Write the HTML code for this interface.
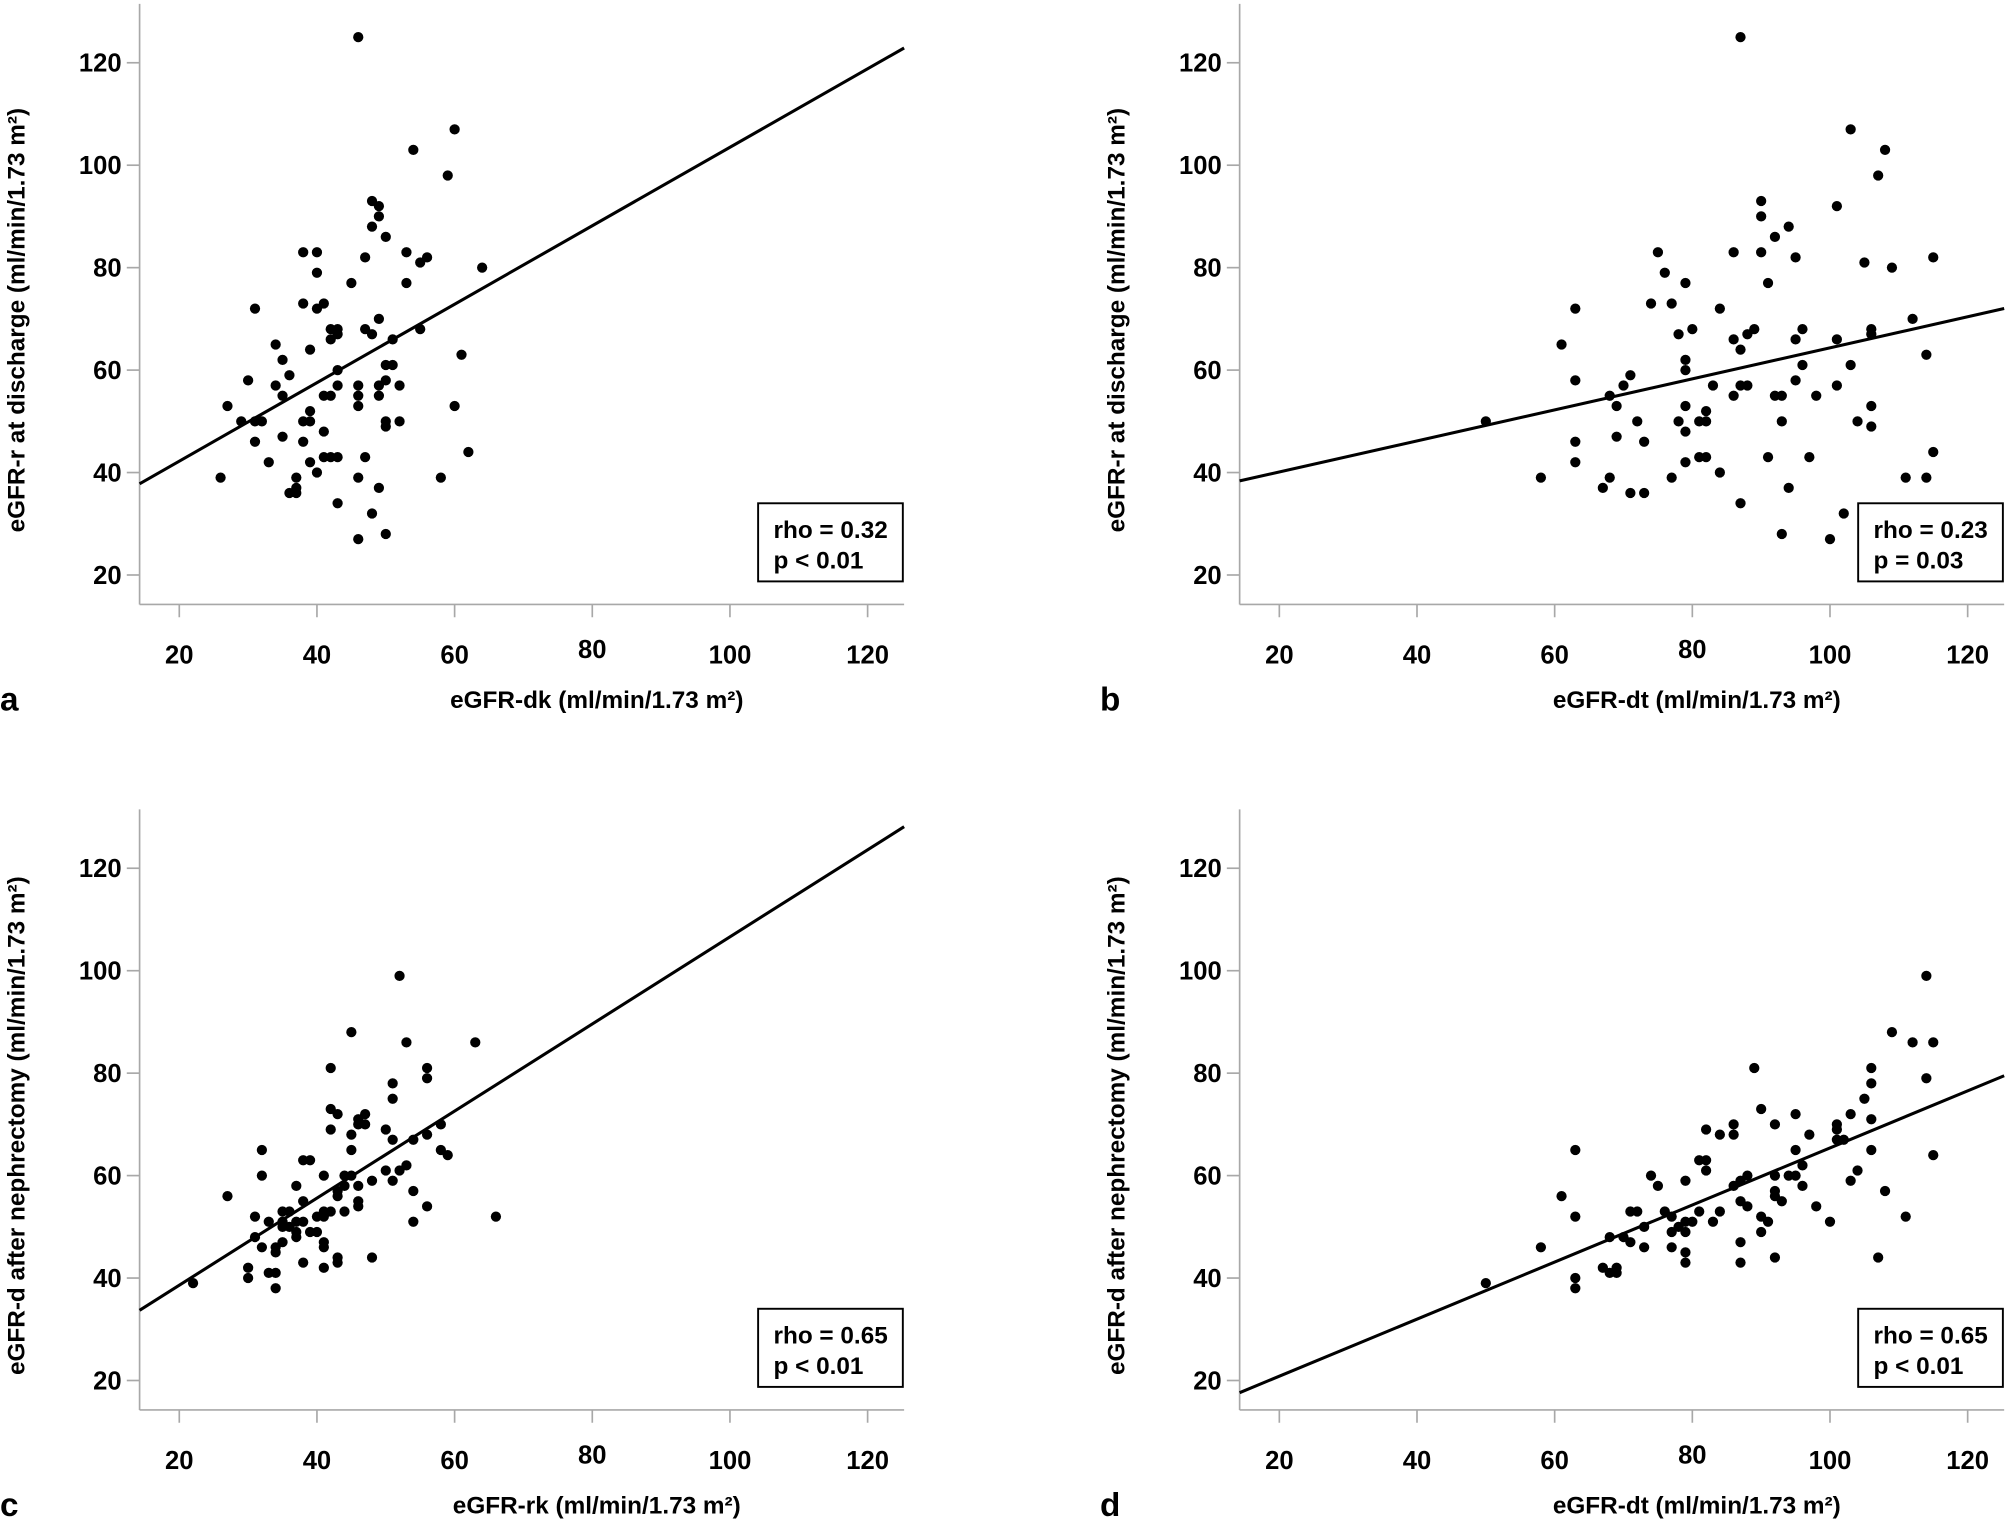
<!DOCTYPE html>
<html><head><meta charset="utf-8"><style>
html,body{margin:0;padding:0;background:#fff;}
svg{display:block;}
text{font-family:"Liberation Sans Narrow","Liberation Sans",sans-serif;font-weight:bold;fill:#000;}
.plabel{font-family:"Liberation Sans",sans-serif;font-size:26px;}
</style></head><body>
<svg id="fig" xmlns="http://www.w3.org/2000/svg" width="2008" height="1522" viewBox="0 0 1568 1188.5" preserveAspectRatio="none"></svg>
<script>
// Panel a: eGFR-dk vs eGFR-r at discharge
const aX=[46,60,54,59,48,49,49,48,50,38,40,47,53,55,56,64,40,45,53,31,38,40,41,49,42,43,47,55,43,48,42,51,34,39,61,35,43,36,30,50,34,43,46,49,52,50,51,35,41,42,46,49,27,46,60,39,29,31,32,38,39,50,52,50,41,35,31,38,62,41,42,43,47,33,39,40,26,37,46,58,37,49,36,37,43,48,50,46];
const aY=[125,107,103,98,93,92,90,88,86,83,83,82,83,81,82,80,79,77,77,72,73,72,73,70,68,68,68,68,67,67,66,66,65,64,63,62,60,59,58,58,57,57,57,57,57,61,61,55,55,55,55,55,53,53,53,52,50,50,50,50,50,50,50,49,48,47,46,46,44,43,43,43,43,42,42,40,39,39,39,39,37,37,36,36,34,32,28,27];
// Panel b: eGFR-dt vs eGFR-r at discharge
const bX=[87,103,108,107,90,101,90,94,92,75,86,90,95,115,105,109,76,79,91,63,74,77,84,112,80,89,96,106,78,88,106,86,95,101,61,87,114,79,96,103,79,71,63,95,70,83,87,88,101,68,86,92,93,98,69,79,106,82,50,72,78,81,82,93,104,106,79,69,63,73,115,81,82,91,97,63,79,84,58,68,77,111,114,67,94,71,73,87,102,93,100];
const bY=[125,107,103,98,93,92,90,88,86,83,83,83,82,82,81,80,79,77,77,72,73,73,72,70,68,68,68,68,67,67,67,66,66,66,65,64,63,62,61,61,60,59,58,58,57,57,57,57,57,55,55,55,55,55,53,53,53,52,50,50,50,50,50,50,50,49,48,47,46,46,44,43,43,43,43,42,42,40,39,39,39,39,39,37,37,36,36,34,32,28,27];
// Panel c: eGFR-rk vs eGFR-d after nephrectomy
const cX=[22,27,52,45,53,63,42,56,56,51,51,42,43,46,47,46,47,58,42,50,45,56,51,54,32,45,58,59,38,39,53,50,52,32,41,44,45,48,51,37,44,46,43,54,43,38,46,46,56,35,36,41,42,44,31,40,41,66,33,35,37,38,54,35,36,37,39,40,31,37,35,41,32,34,41,34,48,43,38,43,30,41,33,34,30,34];
const cY=[39,56,99,88,86,86,81,81,79,78,75,73,72,71,72,70,70,70,69,69,68,68,67,67,65,65,65,64,63,63,62,61,61,60,60,60,60,59,59,58,58,58,57,57,56,55,55,54,54,53,53,53,53,53,52,52,52,52,51,51,51,51,51,50,50,49,49,49,48,48,47,47,46,46,46,45,44,44,43,43,42,42,41,41,40,38];
// Panel d: eGFR-dt vs eGFR-d after nephrectomy
const dX=[114,109,112,115,89,106,106,114,105,90,95,103,106,86,92,101,82,101,84,86,97,101,102,63,95,106,115,81,82,82,104,96,74,88,92,94,95,79,87,75,86,96,103,92,108,61,87,92,93,88,98,71,72,76,81,84,77,63,111,90,79,80,83,91,100,78,73,77,79,90,68,70,71,87,58,73,77,79,107,92,79,87,67,68,69,69,63,63,50];
const dY=[99,88,86,86,81,81,78,79,75,73,72,72,71,70,70,70,69,69,68,68,68,67,67,65,65,65,64,63,63,61,61,62,60,60,60,60,60,59,59,58,58,58,59,57,57,56,55,56,55,54,54,53,53,53,53,53,52,52,52,52,51,51,51,51,51,50,50,49,49,49,48,48,47,47,46,46,46,45,44,44,43,43,42,41,42,41,40,38,39];
// Regression lines: [slope, intercept]
const fitA=[0.766,26.9];
const fitB=[0.303,34.05];
const fitC=[0.85,21.6];
const fitD=[0.557,9.7];
const xTicks=[20,40,60,80,100,120];
const yTicks=[20,40,60,80,100,120];
const statsA=["rho = 0.32","p < 0.01"];
const statsB=["rho = 0.23","p = 0.03"];
const statsC=["rho = 0.65","p < 0.01"];
const statsD=["rho = 0.65","p < 0.01"];

const NS="http://www.w3.org/2000/svg";
const svg=document.getElementById('fig');
function mk(tag,attrs,parent){const e=document.createElementNS(NS,tag);for(const k in attrs)e.setAttribute(k,attrs[k]);(parent||svg).appendChild(e);return e;}

function panel(id,ox,oy,xs,ys,fit,stats,letter,xtitle,ytitle,boxRight){
  const g=mk('g',{});
  
  
  const X=v=>ox+(v-20)*5.375;
  const Y=v=>oy-(v-20)*4;
  const axLeft=ox-31, axRight=boxRight+1, axBottom=oy+23, axTop=oy-446;
  const yax=mk('line',{x1:axLeft,y1:axTop,x2:axLeft,y2:axBottom,stroke:'#a8a8a8','stroke-width':1.3},g);
  
  
  const xax=mk('line',{x1:axLeft,y1:axBottom,x2:axRight,y2:axBottom,stroke:'#a8a8a8','stroke-width':1.3},g);
  
  
  xTicks.forEach(t=>{
    mk('line',{x1:X(t),y1:axBottom,x2:X(t),y2:axBottom+10,stroke:'#a8a8a8','stroke-width':1.3},g);
    const tx=mk('text',{x:X(t),y:oy+69-(t===80?4:0),'text-anchor':'middle','font-size':20},g);
    tx.textContent=t;
    
    
  });
  yTicks.forEach(t=>{
    mk('line',{x1:axLeft-10,y1:Y(t),x2:axLeft,y2:Y(t),stroke:'#a8a8a8','stroke-width':1.3},g);
    const ty=mk('text',{x:axLeft-14,y:Y(t)+7,'text-anchor':'end','font-size':20},g);
    ty.textContent=t;
    
    
  });
  const v0=20+(axLeft-ox)/5.375, v1=20+(axRight-ox)/5.375;
  const rl=mk('line',{x1:X(v0),y1:Y(fit[0]*v0+fit[1]),x2:X(v1),y2:Y(fit[0]*v1+fit[1]),stroke:'#000','stroke-width':2.4},g);
  
  
  for(let i=0;i<xs.length;i++){
    const c=mk('circle',{cx:X(xs[i]),cy:Y(ys[i]),r:4,fill:'#000'},g);
    
    
  }
  const bx=mk('rect',{x:boxRight-113,y:oy-56,width:113,height:61,fill:'#fff',stroke:'#000','stroke-width':1.5},g);
  
  
  const s1=mk('text',{x:boxRight-101,y:oy-29,'font-size':19},g);
  s1.textContent=stats[0];
  
  
  const s2=mk('text',{x:boxRight-101,y:oy-5,'font-size':19},g);
  s2.textContent=stats[1];
  
  
  const xt=mk('text',{x:ox+326,y:oy+104,'text-anchor':'middle','font-size':19},g);
  xt.innerHTML=xtitle;
  
  
  const yt=mk('text',{x:0,y:0,'text-anchor':'middle','font-size':19,transform:'translate('+(ox-121)+','+(oy-199)+') rotate(-90)'},g);
  yt.innerHTML=ytitle;
  
  
  const pl=mk('text',{x:ox-140,y:oy+106,'class':'plabel'},g);
  pl.textContent=letter;
  
  
}
const ytA="eGFR-r at discharge (ml/min/1.73 m²)";
const ytC="eGFR-d after nephrectomy (ml/min/1.73 m²)";
panel('a',140,449,aX,aY,fitA,statsA,'a',"eGFR-dk (ml/min/1.73 m²)",ytA,705);
panel('b',999,449,bX,bY,fitB,statsB,'b',"eGFR-dt (ml/min/1.73 m²)",ytA,1564);
panel('c',140,1078,cX,cY,fitC,statsC,'c',"eGFR-rk (ml/min/1.73 m²)",ytC,705);
panel('d',999,1078,dX,dY,fitD,statsD,'d',"eGFR-dt (ml/min/1.73 m²)",ytC,1564);
</script>
</body></html>
